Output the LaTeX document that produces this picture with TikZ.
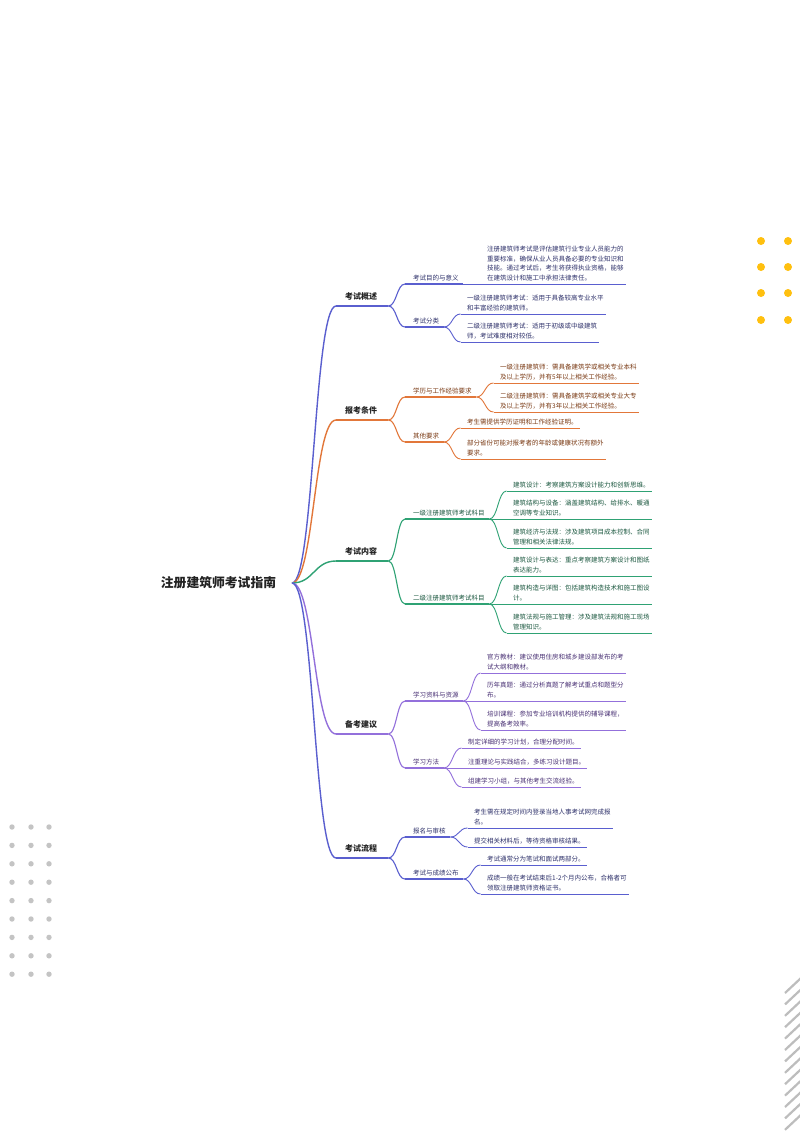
\documentclass[tikz,border=0pt]{standalone}
\usepackage{fontspec}
\setmainfont{Noto Sans CJK SC}
\usetikzlibrary{calc}
\definecolor{cblue}{HTML}{5A5FCF}
\definecolor{cbluetxt}{HTML}{2F326B}
\definecolor{corange}{HTML}{E2773A}
\definecolor{corangetxt}{HTML}{7A3A14}
\definecolor{cgreen}{HTML}{2FA274}
\definecolor{cgreentxt}{HTML}{1E5A42}
\definecolor{cpurple}{HTML}{9370DB}
\definecolor{cpurpletxt}{HTML}{4A3275}
\definecolor{cdark}{HTML}{222222}
\definecolor{cyellow}{HTML}{FFC00F}
\definecolor{cgraydot}{HTML}{C4C4C4}
\definecolor{cstripe}{HTML}{BDBDBD}
\tikzset{
  lvone/.style={anchor=south west, inner sep=0pt, text=cdark, font=\bfseries\fontsize{8}{10}\selectfont},
  lvtwo/.style={anchor=south west, inner sep=0pt, font=\fontsize{6.5}{9.5}\selectfont},
  leaf/.style={anchor=south west, inner sep=0pt, align=left, font=\fontsize{6.5}{9.5}\selectfont},
  lvoneline/.style={line width=1.4pt},
  lvtwoline/.style={line width=1.1pt},
  leafline/.style={line width=0.9pt},
  rootnode/.style={inner sep=0pt, text=cdark, font=\bfseries\fontsize{12.8}{14}\selectfont},
}
% #1 name #2 level #3 colour #4 tx #5 uy #6 lpad #7 rpad #8 text #9 gap
\newcommand\mmnode[9]{%
  \node[text=#3txt, #2] (#1) at (#4,#5-#9) {#8};
  \coordinate (#1-l) at (#4-#6,#5);
  \coordinate (#1-r) at ([xshift=#7pt]#1.south east |- 0,#5);
  \draw[#3, #2line] (#1-l) -- (#1-r);
}
\newcommand\mmlink[4]{%
  \draw[#3, line width=#4] (#1) let \p1=(#1), \p2=(#2) in
    .. controls ({(\x1+\x2)/2},\y1) and ({(\x1+\x2)/2},\y2) .. (#2);
}
\begin{document}
\begin{tikzpicture}[x=1pt, y=-1pt]
\useasboundingbox (0,0) rectangle (800,1132);
\fill[white] (0,0) rectangle (800,1132);

% decorations
\foreach \xx in {761,788} \foreach \yy in {241,267,293,320}
  \fill[cyellow] (\xx,\yy) circle (4);
\foreach \xx in {12,31,49} \foreach \k in {0,...,8}
  \fill[cgraydot] (\xx,827+18.4*\k) circle (2.7);
\begin{scope}
  \clip (0,0) rectangle (800,1132);
  \foreach \k in {0,...,12}
    \draw[cstripe, line width=2.2pt] (785,993+11.4*\k) -- (801,978+11.4*\k);
\end{scope}

% root
\node[rootnode] (root) at (218.5,583) {注册建筑师考试指南};
\coordinate (root-r) at (292,583);

% ---------- section 1 ----------
\mmnode{s1}{lvone}{cblue}{345}{306}{9}{11}{考试概述}{5.5}
\mmnode{s1a}{lvtwo}{cblue}{413}{284}{8}{4.5}{考试目的与意义}{3}
\mmnode{s1a1}{leaf}{cblue}{487}{284}{6.5}{2}{注册建筑师考试是评估建筑行业专业人员能力的\\重要标准，确保从业人员具备必要的专业知识和\\技能。通过考试后，考生将获得执业资格，能够\\在建筑设计和施工中承担法律责任。}{3}
\mmnode{s1b}{lvtwo}{cblue}{413}{327}{8}{4.5}{考试分类}{3}
\mmnode{s1b1}{leaf}{cblue}{467}{314}{6.5}{2}{一级注册建筑师考试：适用于具备较高专业水平\\和丰富经验的建筑师。}{3}
\mmnode{s1b2}{leaf}{cblue}{467}{342}{6.5}{2}{二级注册建筑师考试：适用于初级或中级建筑\\师，考试难度相对较低。}{3}
\mmlink{root-r}{s1-l}{cblue}{1.4pt}
\mmlink{s1-r}{s1a-l}{cblue}{1.1pt}
\mmlink{s1-r}{s1b-l}{cblue}{1.1pt}
\mmlink{s1a-r}{s1a1-l}{cblue}{0.9pt}
\mmlink{s1b-r}{s1b1-l}{cblue}{0.9pt}
\mmlink{s1b-r}{s1b2-l}{cblue}{0.9pt}

% ---------- section 2 ----------
\mmnode{s2}{lvone}{corange}{345}{420}{9}{11}{报考条件}{5.5}
\mmnode{s2a}{lvtwo}{corange}{413}{397}{8}{4.5}{学历与工作经验要求}{3}
\mmnode{s2a1}{leaf}{corange}{500}{383}{6.5}{2}{一级注册建筑师：需具备建筑学或相关专业本科\\及以上学历，并有5年以上相关工作经验。}{3}
\mmnode{s2a2}{leaf}{corange}{500}{412}{6.5}{2}{二级注册建筑师：需具备建筑学或相关专业大专\\及以上学历，并有3年以上相关工作经验。}{3}
\mmnode{s2b}{lvtwo}{corange}{413}{442}{8}{4.5}{其他要求}{3}
\mmnode{s2b1}{leaf}{corange}{467}{428}{6.5}{2}{考生需提供学历证明和工作经验证明。}{3}
\mmnode{s2b2}{leaf}{corange}{467}{459}{6.5}{2}{部分省份可能对报考者的年龄或健康状况有额外\\要求。}{3}
\mmlink{root-r}{s2-l}{corange}{1.4pt}
\mmlink{s2-r}{s2a-l}{corange}{1.1pt}
\mmlink{s2-r}{s2b-l}{corange}{1.1pt}
\mmlink{s2a-r}{s2a1-l}{corange}{0.9pt}
\mmlink{s2a-r}{s2a2-l}{corange}{0.9pt}
\mmlink{s2b-r}{s2b1-l}{corange}{0.9pt}
\mmlink{s2b-r}{s2b2-l}{corange}{0.9pt}

% ---------- section 3 ----------
\mmnode{s3}{lvone}{cgreen}{345}{561}{9}{11}{考试内容}{5.5}
\mmnode{s3a}{lvtwo}{cgreen}{413}{519}{8}{4.5}{一级注册建筑师考试科目}{3}
\mmnode{s3a1}{leaf}{cgreen}{513}{491}{6.5}{2}{建筑设计：考察建筑方案设计能力和创新思维。}{3}
\mmnode{s3a2}{leaf}{cgreen}{513}{519}{6.5}{2}{建筑结构与设备：涵盖建筑结构、给排水、暖通\\空调等专业知识。}{3}
\mmnode{s3a3}{leaf}{cgreen}{513}{548}{6.5}{2}{建筑经济与法规：涉及建筑项目成本控制、合同\\管理和相关法律法规。}{3}
\mmnode{s3b}{lvtwo}{cgreen}{413}{604}{8}{4.5}{二级注册建筑师考试科目}{3}
\mmnode{s3b1}{leaf}{cgreen}{513}{576}{6.5}{2}{建筑设计与表达：重点考察建筑方案设计和图纸\\表达能力。}{3}
\mmnode{s3b2}{leaf}{cgreen}{513}{604}{6.5}{2}{建筑构造与详图：包括建筑构造技术和施工图设\\计。}{3}
\mmnode{s3b3}{leaf}{cgreen}{513}{633}{6.5}{2}{建筑法规与施工管理：涉及建筑法规和施工现场\\管理知识。}{3}
\mmlink{root-r}{s3-l}{cgreen}{1.4pt}
\mmlink{s3-r}{s3a-l}{cgreen}{1.1pt}
\mmlink{s3-r}{s3b-l}{cgreen}{1.1pt}
\mmlink{s3a-r}{s3a1-l}{cgreen}{0.9pt}
\mmlink{s3a-r}{s3a2-l}{cgreen}{0.9pt}
\mmlink{s3a-r}{s3a3-l}{cgreen}{0.9pt}
\mmlink{s3b-r}{s3b1-l}{cgreen}{0.9pt}
\mmlink{s3b-r}{s3b2-l}{cgreen}{0.9pt}
\mmlink{s3b-r}{s3b3-l}{cgreen}{0.9pt}

% ---------- section 4 ----------
\mmnode{s4}{lvone}{cpurple}{345}{734}{9}{11}{备考建议}{5.5}
\mmnode{s4a}{lvtwo}{cpurple}{413}{701}{8}{4.5}{学习资料与资源}{3}
\mmnode{s4a1}{leaf}{cpurple}{487}{673}{6.5}{2}{官方教材：建议使用住房和城乡建设部发布的考\\试大纲和教材。}{3}
\mmnode{s4a2}{leaf}{cpurple}{487}{701}{6.5}{2}{历年真题：通过分析真题了解考试重点和题型分\\布。}{3}
\mmnode{s4a3}{leaf}{cpurple}{487}{730}{6.5}{2}{培训课程：参加专业培训机构提供的辅导课程，\\提高备考效率。}{3}
\mmnode{s4b}{lvtwo}{cpurple}{413}{768}{8}{4.5}{学习方法}{3}
\mmnode{s4b1}{leaf}{cpurple}{468}{748}{6.5}{2}{制定详细的学习计划，合理分配时间。}{3}
\mmnode{s4b2}{leaf}{cpurple}{468}{768}{6.5}{2}{注重理论与实践结合，多练习设计题目。}{3}
\mmnode{s4b3}{leaf}{cpurple}{468}{787}{6.5}{2}{组建学习小组，与其他考生交流经验。}{3}
\mmlink{root-r}{s4-l}{cpurple}{1.4pt}
\mmlink{s4-r}{s4a-l}{cpurple}{1.1pt}
\mmlink{s4-r}{s4b-l}{cpurple}{1.1pt}
\mmlink{s4a-r}{s4a1-l}{cpurple}{0.9pt}
\mmlink{s4a-r}{s4a2-l}{cpurple}{0.9pt}
\mmlink{s4a-r}{s4a3-l}{cpurple}{0.9pt}
\mmlink{s4b-r}{s4b1-l}{cpurple}{0.9pt}
\mmlink{s4b-r}{s4b2-l}{cpurple}{0.9pt}
\mmlink{s4b-r}{s4b3-l}{cpurple}{0.9pt}

% ---------- section 5 ----------
\mmnode{s5}{lvone}{cblue}{345}{858}{9}{11}{考试流程}{5.5}
\mmnode{s5a}{lvtwo}{cblue}{413}{837}{8}{4.5}{报名与审核}{3}
\mmnode{s5a1}{leaf}{cblue}{474}{828}{6.5}{2}{考生需在规定时间内登录当地人事考试网完成报\\名。}{3}
\mmnode{s5a2}{leaf}{cblue}{474}{847}{6.5}{2}{提交相关材料后，等待资格审核结果。}{3}
\mmnode{s5b}{lvtwo}{cblue}{413}{879}{8}{4.5}{考试与成绩公布}{3}
\mmnode{s5b1}{leaf}{cblue}{487}{865}{6.5}{2}{考试通常分为笔试和面试两部分。}{3}
\mmnode{s5b2}{leaf}{cblue}{487}{894}{6.5}{2}{成绩一般在考试结束后1-2个月内公布，合格者可\\领取注册建筑师资格证书。}{3}
\mmlink{root-r}{s5-l}{cblue}{1.4pt}
\mmlink{s5-r}{s5a-l}{cblue}{1.1pt}
\mmlink{s5-r}{s5b-l}{cblue}{1.1pt}
\mmlink{s5a-r}{s5a1-l}{cblue}{0.9pt}
\mmlink{s5a-r}{s5a2-l}{cblue}{0.9pt}
\mmlink{s5b-r}{s5b1-l}{cblue}{0.9pt}
\mmlink{s5b-r}{s5b2-l}{cblue}{0.9pt}
\end{tikzpicture}
\end{document}
